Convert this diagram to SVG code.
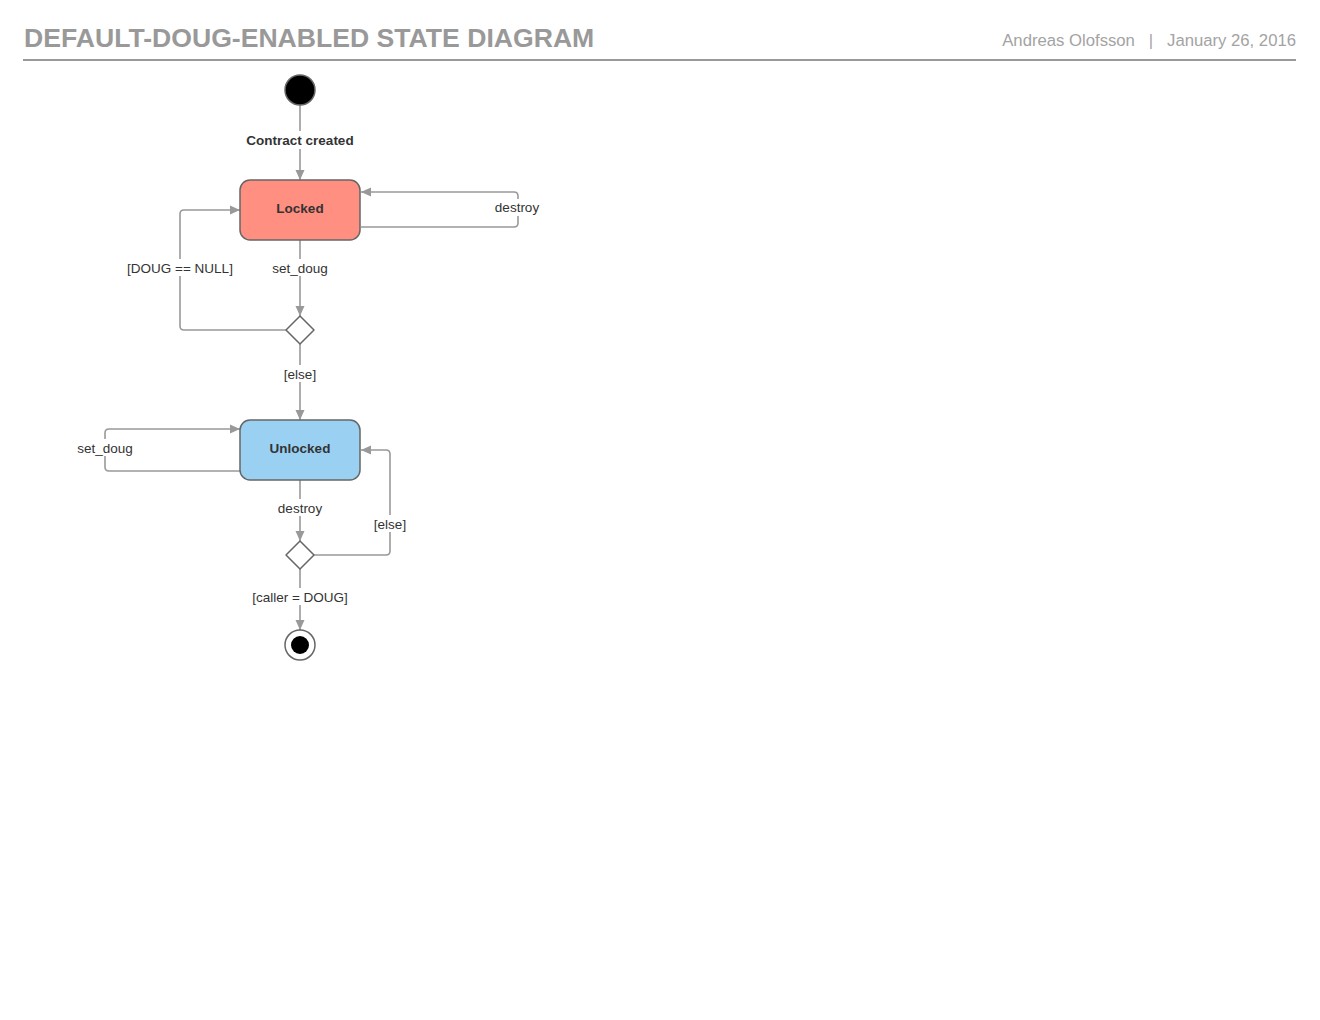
<svg xmlns="http://www.w3.org/2000/svg" width="1320" height="1020" viewBox="0 0 1320 1020">
<defs>
<marker id="arr" viewBox="0 0 10 10" refX="10" refY="5" markerWidth="10" markerHeight="10" markerUnits="userSpaceOnUse" orient="auto">
<path d="M0,0.5 L10,5 L0,9.5 Z" fill="#999"/>
</marker>
<style>
.conn{fill:none;stroke:#999;stroke-width:1.6;stroke-linejoin:round}
.lbl{font-family:"Liberation Sans",Arial,sans-serif;font-size:13.5px;fill:#333;text-anchor:middle}
.bg{fill:#fff}
.state{stroke:#666;stroke-width:1.5}
.name{font-family:"Liberation Sans",Arial,sans-serif;font-size:13.5px;font-weight:bold;fill:#333;text-anchor:middle}
.dia{fill:#fff;stroke:#666;stroke-width:1.5}
</style>
</defs>
<rect width="1320" height="1020" fill="#fff"/>
<g id="header">
<text x="24" y="47" font-family="Liberation Sans,Arial,sans-serif" font-size="26.6" font-weight="bold" fill="#999">DEFAULT-DOUG-ENABLED STATE DIAGRAM</text>
<text x="1296" y="46" font-family="Liberation Sans,Arial,sans-serif" font-size="16.7" fill="#a3a3a3" text-anchor="end" xml:space="preserve">Andreas Olofsson   |   January 26, 2016</text>
<line x1="23" y1="60" x2="1296" y2="60" stroke="#999" stroke-width="2"/>
</g>
<g id="connectors">
<path class="conn" d="M300,105 V180" marker-end="url(#arr)"/>
<path class="conn" d="M361,227 H514 Q518,227 518,223 V196 Q518,192 514,192 H361" marker-end="url(#arr)"/>
<path class="conn" d="M300,240 V316" marker-end="url(#arr)"/>
<path class="conn" d="M286,330 H184 Q180,330 180,326 V214 Q180,210 184,210 H240" marker-end="url(#arr)"/>
<path class="conn" d="M300,344 V420" marker-end="url(#arr)"/>
<path class="conn" d="M240,471 H109 Q105,471 105,467 V433 Q105,429 109,429 H240" marker-end="url(#arr)"/>
<path class="conn" d="M300,480 V541" marker-end="url(#arr)"/>
<path class="conn" d="M314,555 H386 Q390,555 390,551 V454 Q390,450 386,450 H361" marker-end="url(#arr)"/>
<path class="conn" d="M300,569 V630" marker-end="url(#arr)"/>
<rect class="bg" x="244" y="131" width="112" height="18"/>
<text class="lbl" x="300" y="144.5" font-weight="bold">Contract created</text>
<rect class="bg" x="493" y="199" width="50" height="17"/>
<text class="lbl" x="517" y="211.5">destroy</text>
<rect class="bg" x="269" y="259" width="62" height="17"/>
<text class="lbl" x="300" y="272.5">set_doug</text>
<rect class="bg" x="124" y="259" width="112" height="17"/>
<text class="lbl" x="180" y="272.5">[DOUG == NULL]</text>
<rect class="bg" x="281" y="365" width="38" height="17"/>
<text class="lbl" x="300" y="378.5">[else]</text>
<rect class="bg" x="74" y="439" width="62" height="17"/>
<text class="lbl" x="105" y="452.5">set_doug</text>
<rect class="bg" x="275" y="499" width="50" height="17"/>
<text class="lbl" x="300" y="512.5">destroy</text>
<rect class="bg" x="371" y="515" width="38" height="17"/>
<text class="lbl" x="390" y="528.5">[else]</text>
<rect class="bg" x="249" y="588" width="102" height="17"/>
<text class="lbl" x="300" y="601.5">[caller = DOUG]</text>
</g>
<g id="start">
<circle cx="300" cy="90" r="15" fill="#000" stroke="#666" stroke-width="1.5"/>
</g>
<g id="locked">
<rect class="state" x="240" y="180" width="120" height="60" rx="10" fill="#ff8f80"/>
<text class="name" x="300" y="212.5">Locked</text>
</g>
<g id="choice1">
<path class="dia" d="M300,316 L314,330 L300,344 L286,330 Z" stroke-linejoin="round"/>
</g>
<g id="unlocked">
<rect class="state" x="240" y="420" width="120" height="60" rx="10" fill="#9ad0f2"/>
<text class="name" x="300" y="452.5">Unlocked</text>
</g>
<g id="choice2">
<path class="dia" d="M300,541 L314,555 L300,569 L286,555 Z" stroke-linejoin="round"/>
</g>
<g id="end">
<circle cx="300" cy="645" r="15" fill="#fff" stroke="#666" stroke-width="1.5"/>
<circle cx="300" cy="645" r="9" fill="#000"/>
</g>
</svg>
